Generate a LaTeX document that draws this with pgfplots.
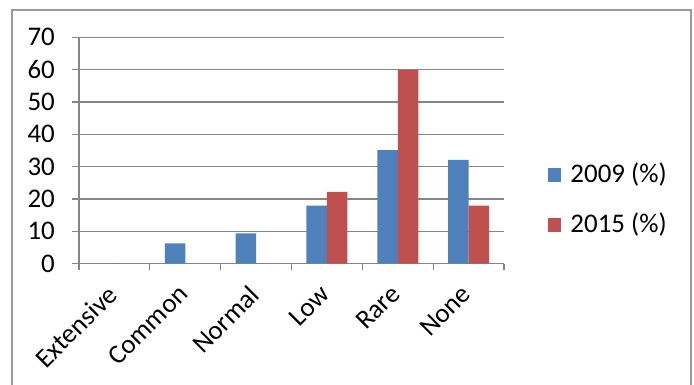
\documentclass[border=0pt]{standalone}
\usepackage{pgfplots}
\pgfplotsset{compat=1.18}
\usepackage{fontspec}
\setmainfont{Carlito}
\definecolor{sblue}{HTML}{4F81BD}
\definecolor{sred}{HTML}{C0504D}
\definecolor{gridg}{HTML}{868686}
\definecolor{frameg}{HTML}{9A9A9A}
\begin{document}
\fontsize{27}{31}\selectfont
\begin{tikzpicture}
\path[use as bounding box] (0,0) rectangle (694bp,385bp);
\draw[frameg, line width=1.5bp] (12bp,0) -- (12bp,375bp) -- (691bp,375bp) -- (691bp,0);
\begin{axis}[
  at={(79bp,121.5bp)}, anchor=south west,
  scale only axis, width=425bp, height=226.2bp,
  ybar=0pt, bar width=20.5bp,
  xmin=-0.5, xmax=5.5, ymin=0, ymax=70,
  xtick={0,...,5},
  xticklabels={Extensive,Common,Normal,Low,Rare,None},
  minor xtick={-0.5,0.5,...,5.5},
  ytick={0,10,...,70},
  axis x line*=bottom, axis y line*=left,
  axis line style={gridg, line width=1.3bp, -},
  every tick/.style={gridg, line width=1.3bp},
  major x tick style={draw=none},
  tick align=outside,
  major tick length=7bp, minor tick length=7bp,
  ymajorgrids, grid style={gridg, line width=1.3bp},
  /pgf/number format/assume math mode=true,
  tick label style={font=\fontsize{27}{31}\selectfont, text=black},
  yticklabel style={inner sep=0pt, xshift=-17bp},
  xticklabel style={rotate=45, anchor=north east, inner sep=0pt, xshift=-15bp, yshift=-3bp},
  legend style={at={(1.096,0.281)}, anchor=west, draw=none, fill=none,
    font=\fontsize{27}{31}\selectfont, row sep=26bp,
    nodes={inner sep=0pt, anchor=west}},
  legend cell align=left,
  legend image code/.code={\fill[#1, draw=none] (0bp,-6.75bp) rectangle (13.5bp,6.75bp);},
]
\addplot[fill=sblue, draw=none] coordinates {(0,0) (1,6.2) (2,9.3) (3,17.9) (4,35.1) (5,32.1)};
\addplot[fill=sred, draw=none] coordinates {(0,0) (1,0) (2,0) (3,22.2) (4,59.9) (5,17.9)};
\legend{\hspace{9bp}2009 (\%),\hspace{9bp}2015 (\%)}
\end{axis}
\end{tikzpicture}
\end{document}
